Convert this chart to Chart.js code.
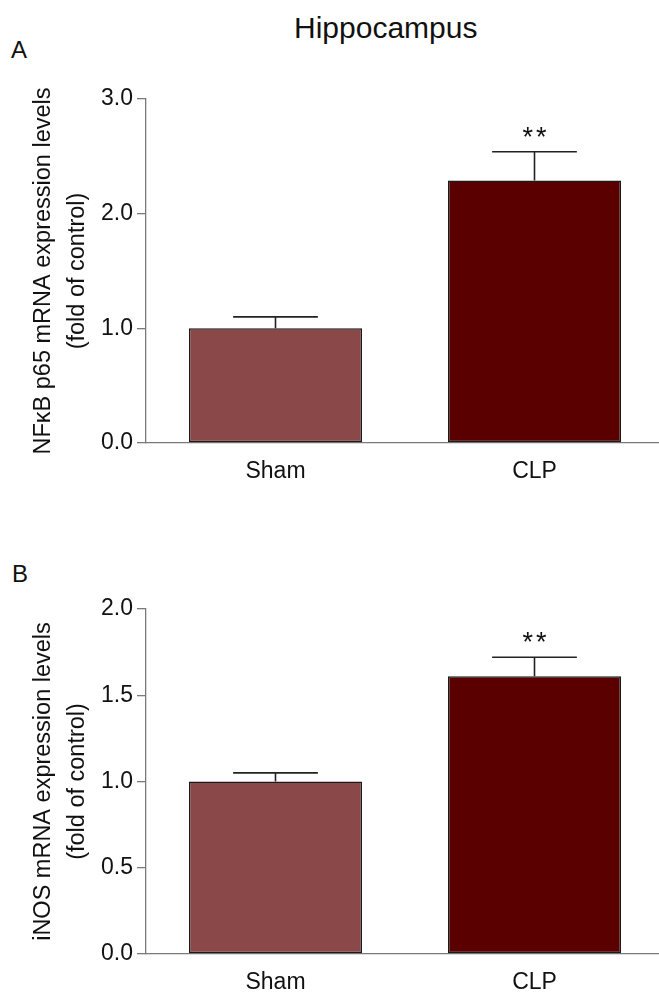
<!DOCTYPE html>
<html>
<head>
<meta charset="utf-8">
<script src="https://cdn.jsdelivr.net/npm/chart.js@4"></script>
<style>
    html, body { margin: 0; padding: 0; background: #fff; }
    body { width: 659px; height: 999px; overflow: hidden; position: relative; font-family: 'Liberation Sans', Arial, sans-serif; color: #111; }
    .panel { position: absolute; left: 0; }
    .lbl { position: absolute; line-height: 1; white-space: nowrap; }
</style>
</head>
<body>

<div class="lbl" style="left:294px; top:13px; font-size:30px;">Hippocampus</div>
<div class="lbl" style="left:11px; top:38px; font-size:24px;">A</div>
<div class="lbl" style="left:12px; top:562px; font-size:24px;">B</div>

<div class="panel" style="top:0;"><canvas id="chartA" width="680" height="500"></canvas></div>
<div class="panel" style="top:500px;"><canvas id="chartB" width="680" height="499"></canvas></div>

<script>
// Data
const groups = ['Sham', 'CLP'];

const nfkbMeans = [1.00, 2.29];
const nfkbErrors = [0.10, 0.25];
const nfkbStars = ['', '**'];
const nfkbTicks = [0, 1, 2, 3];

const inosMeans = [1.00, 1.61];
const inosErrors = [0.05, 0.11];
const inosStars = ['', '**'];
const inosTicks = [0, 0.5, 1, 1.5, 2];

const barColors = ['#8b4849', '#5a0000'];
const axisGrey = '#7a7a7a';

// error bars + significance marks drawn from the dataset values
const errorBarPlugin = {
    id: 'errorBars',
    afterDatasetsDraw(chart, args, opts) {
        const ctx = chart.ctx;
        const yScale = chart.scales.y;
        const meta = chart.getDatasetMeta(0);
        const values = chart.data.datasets[0].data;
        meta.data.forEach((bar, i) => {
            const top = yScale.getPixelForValue(values[i] + opts.errors[i]);
            const half = bar.width * 0.245;
            ctx.save();
            ctx.strokeStyle = '#222';
            ctx.lineWidth = 1.6;
            ctx.beginPath();
            ctx.moveTo(bar.x, bar.y);
            ctx.lineTo(bar.x, top);
            ctx.moveTo(bar.x - half, top);
            ctx.lineTo(bar.x + half, top);
            ctx.stroke();
            if (opts.stars[i]) {
                ctx.fillStyle = '#111';
                ctx.font = '27px "Liberation Sans", Arial, sans-serif';
                ctx.letterSpacing = '3px';
                ctx.textAlign = 'center';
                ctx.textBaseline = 'alphabetic';
                ctx.fillText(opts.stars[i], bar.x + 1.5, top - 6);
            }
            ctx.restore();
        });
    }
};

function makePanel(canvasId, means, errors, stars, ticks, yTitle, topPad, xHeight) {
    const ctx = document.getElementById(canvasId);
    new Chart(ctx, {
        type: 'bar',
        data: {
            labels: groups,
            datasets: [{
                data: means,
                backgroundColor: barColors,
                borderColor: '#1a1a1a',
                borderWidth: 1.5,
                borderSkipped: false,
                categoryPercentage: 1,
                barPercentage: 0.668
            }]
        },
        options: {
            responsive: false,
            animation: false,
            layout: { padding: { top: topPad, right: 16, left: 0, bottom: 0 } },
            plugins: {
                legend: { display: false },
                tooltip: { enabled: false },
                errorBars: { errors: errors, stars: stars }
            },
            scales: {
                x: {
                    grid: { display: false, drawTicks: false },
                    border: { display: true, color: axisGrey, width: 1.3 },
                    ticks: {
                        color: '#111',
                        padding: 15,
                        font: { family: 'Liberation Sans', size: 23 }
                    },
                    afterFit(scale) { scale.height = xHeight; }
                },
                y: {
                    min: ticks[0],
                    max: ticks[ticks.length - 1],
                    afterBuildTicks(scale) { scale.ticks = ticks.map(v => ({ value: v })); },
                    grid: { drawOnChartArea: false, drawTicks: true, tickLength: 9, color: axisGrey, lineWidth: 1.3 },
                    border: { display: true, color: axisGrey, width: 1.3 },
                    ticks: {
                        color: '#111',
                        padding: 4,
                        font: { family: 'Liberation Sans', size: 23 },
                        callback: v => Number(v).toFixed(1)
                    },
                    title: {
                        display: true,
                        text: yTitle,
                        color: '#111',
                        font: { family: 'Liberation Sans', size: 23.5, lineHeight: 1.42 },
                        padding: { top: 27, bottom: 0 }
                    },
                    afterFit(scale) { scale.width = 146; }
                }
            }
        },
        plugins: [errorBarPlugin]
    });
}

makePanel('chartA', nfkbMeans, nfkbErrors, nfkbStars, nfkbTicks,
    ['NFκB p65 mRNA expression levels', '(fold of control)'], 99, 57);
makePanel('chartB', inosMeans, inosErrors, inosStars, inosTicks,
    ['iNOS mRNA expression levels', '(fold of control)'], 109, 45);
</script>
</body>
</html>
